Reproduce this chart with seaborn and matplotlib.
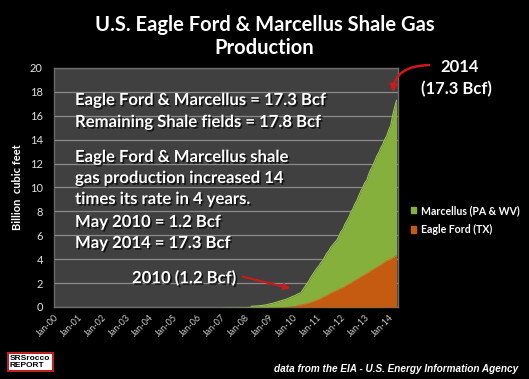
import numpy as np
import pandas as pd
import matplotlib
matplotlib.use("Agg")
import matplotlib.pyplot as plt
import matplotlib.patheffects as pe
import seaborn as sns

# monthly production as charted (Jan 2007 .. May 2014); nothing before 2007
start_month = "2007-01"
eagle_ford = [
    0, 0, 0, 0, 0, 0, 0, 0, 0, 0, 0, 0,
    0, 0, 0, 0, 0, 0, 0, 0, 0, 0, 0, 0,
    0.0, 0.0, 0.0, 0.01, 0.01, 0.02, 0.02, 0.03, 0.04, 0.05, 0.06, 0.07,
    0.08, 0.09, 0.11, 0.14, 0.17, 0.20, 0.24, 0.28, 0.33, 0.38, 0.44, 0.50,
    0.56, 0.62, 0.70, 0.78, 0.87, 0.95, 1.05, 1.15, 1.22, 1.30, 1.38, 1.45,
    1.55, 1.60, 1.70, 1.80, 1.90, 2.00, 2.10, 2.20, 2.30, 2.40, 2.50, 2.60,
    2.70, 2.80, 2.90, 3.00, 3.10, 3.20, 3.30, 3.40, 3.50, 3.60, 3.75, 3.85,
    3.90, 4.00, 4.10, 4.20, 4.30,
]
marcellus = [
    0.01, 0.01, 0.01, 0.01, 0.02, 0.02, 0.02, 0.02, 0.02, 0.03, 0.03, 0.03,
    0.03, 0.04, 0.05, 0.06, 0.07, 0.08, 0.09, 0.10, 0.12, 0.14, 0.17, 0.20,
    0.25, 0.28, 0.32, 0.36, 0.41, 0.45, 0.50, 0.54, 0.58, 0.62, 0.69, 0.75,
    0.82, 0.86, 0.94, 0.98, 1.03, 1.25, 1.46, 1.67, 1.87, 2.12, 2.31, 2.50,
    2.69, 2.83, 3.00, 3.12, 3.33, 3.55, 3.65, 3.85, 3.98, 4.10, 4.22, 4.45,
    4.75, 4.90, 5.20, 5.40, 5.60, 5.90, 6.10, 6.40, 6.60, 6.90, 7.20, 7.40,
    7.70, 7.80, 8.20, 8.50, 8.70, 9.00, 9.30, 9.50, 9.80, 10.00, 10.25, 10.45,
    10.90, 11.20, 11.90, 12.50, 13.00,
]
year_labels = ["Jan-%02d" % y for y in range(0, 15)]
y_ticks = list(range(0, 21, 2))

GREEN = "#86b03c"
ORANGE = "#c55a11"
PLOT_BG = "#404040"

df = pd.DataFrame({
    "month": pd.date_range(start_month, periods=len(marcellus), freq="MS"),
    "Eagle Ford (TX)": eagle_ford,
    "Marcellus (PA & WV)": marcellus,
})
df["total"] = df["Eagle Ford (TX)"] + df["Marcellus (PA & WV)"]

sns.set_theme(style="dark")
plt.rcParams["font.family"] = ["Lato", "DejaVu Sans"]

fig = plt.figure(figsize=(5.29, 3.79), dpi=100, facecolor="black")
ax = fig.add_axes([0.102, 0.19, 0.65, 0.631])
ax.set_facecolor(PLOT_BG)

ax.stackplot(df["month"], df["Eagle Ford (TX)"], df["Marcellus (PA & WV)"],
             colors=[ORANGE, GREEN], lw=0, zorder=3)
# lighter rim along the top of each band
sns.lineplot(data=df[df["total"] > 0.05], x="month", y="total",
             color="#9cc453", lw=0.8, ax=ax, zorder=4)
sns.lineplot(data=df[df["Eagle Ford (TX)"] > 0.1], x="month", y="Eagle Ford (TX)",
             color="#d86a1c", lw=0.8, ax=ax, zorder=4)

ax.set_xlim(pd.Timestamp("2000-01-01"), pd.Timestamp("2014-05-20"))
ax.set_ylim(0, 20)
ax.set_yticks(y_ticks)
ax.set_xticks(pd.date_range("2000-01-01", periods=len(year_labels), freq="YS"))
ax.set_xticklabels(year_labels, rotation=45, ha="right", rotation_mode="anchor",
                   fontsize=6.5, color="#c8c8c8")
ax.tick_params(axis="y", labelsize=8, colors="#e0e0e0", length=0, pad=8)
ax.tick_params(axis="x", length=0, pad=4)
ax.grid(axis="y", color="#8a8a8a", lw=0.9, zorder=1)
ax.grid(axis="x", visible=False)
for s in ax.spines.values():
    s.set_visible(True)
    s.set_color("#6a6a6a")
    s.set_linewidth(1)
ax.set_xlabel("")
ax.set_ylabel("Billion  cubic feet", color="white", fontsize=8, fontweight="bold", labelpad=5)

shadow = [pe.withSimplePatchShadow(offset=(1.2, -1.2), shadow_rgbFace="black", alpha=0.7)]
notes = [
    (100, "Eagle Ford & Marcellus = 17.3 Bcf"),
    (122, "Remaining Shale fields = 17.8 Bcf"),
    (157, "Eagle Ford & Marcellus shale"),
    (178, "gas production increased 14"),
    (199, "times its rate in 4 years."),
    (222, "May 2010 = 1.2 Bcf"),
    (243, "May 2014 = 17.3 Bcf"),
]
for ypx, txt in notes:
    fig.text(75 / 529, 1 - ypx / 379, txt, color="white", fontsize=12,
             fontweight="bold", va="center", ha="left", path_effects=shadow)

fig.text(132 / 529, 1 - 278 / 379, "2010 (1.2 Bcf)", color="white", fontsize=12,
         fontweight="bold", va="center", ha="left", path_effects=shadow)
ax.annotate("", xy=(293 / 529, 1 - 289 / 379), xycoords="figure fraction",
            xytext=(240 / 529, 1 - 276 / 379), textcoords="figure fraction",
            arrowprops=dict(arrowstyle="-|>", color="#d01818", lw=1.5, mutation_scale=9))

fig.text(460 / 529, 1 - 67 / 379, "2014", color="white", fontsize=12,
         fontweight="bold", va="center", ha="center")
fig.text(456 / 529, 1 - 89 / 379, "(17.3 Bcf)", color="white", fontsize=12,
         fontweight="bold", va="center", ha="center")
ax.annotate("", xy=(393 / 529, 1 - 95 / 379), xycoords="figure fraction",
            xytext=(432 / 529, 1 - 65 / 379), textcoords="figure fraction",
            arrowprops=dict(arrowstyle="-|>", color="#d01818", lw=1.8, mutation_scale=10,
                            connectionstyle="angle3,angleA=0,angleB=90"),
            annotation_clip=False)

fig.text(0.5, 1 - 25 / 379, "U.S. Eagle Ford & Marcellus Shale Gas", color="white",
         fontsize=14.5, fontweight="bold", ha="center", va="center")
fig.text(0.5, 1 - 48 / 379, "Production", color="white",
         fontsize=14.5, fontweight="bold", ha="center", va="center")

handles = [plt.Rectangle((0, 0), 1, 1, color=GREEN), plt.Rectangle((0, 0), 1, 1, color=ORANGE)]
leg = fig.legend(handles, ["Marcellus (PA & WV)", "Eagle Ford (TX)"],
                 loc="center left", bbox_to_anchor=(401 / 529, 1 - 220 / 379),
                 frameon=False, fontsize=7.6, handlelength=0.55, handleheight=0.55,
                 handletextpad=0.45, labelspacing=0.8)
for t in leg.get_texts():
    t.set_color("white")
    t.set_fontweight("bold")

fig.text(518 / 529, 1 - 369 / 379, "data from the EIA - U.S. Energy Information Agency",
         color="white", fontsize=7.2, fontstyle="italic", fontweight="bold",
         family="Liberation Sans", ha="right", va="center")
fig.text(10 / 529, 1 - 362 / 379, "SRSrocco\nREPORT", color="black", fontsize=6,
         fontweight="bold", family="Liberation Sans", ha="left", va="center", linespacing=0.9,
         bbox=dict(boxstyle="square,pad=0.3", fc="white", ec="#c02020", lw=1.5))

fig.savefig("out.png", dpi=100, facecolor="black")
